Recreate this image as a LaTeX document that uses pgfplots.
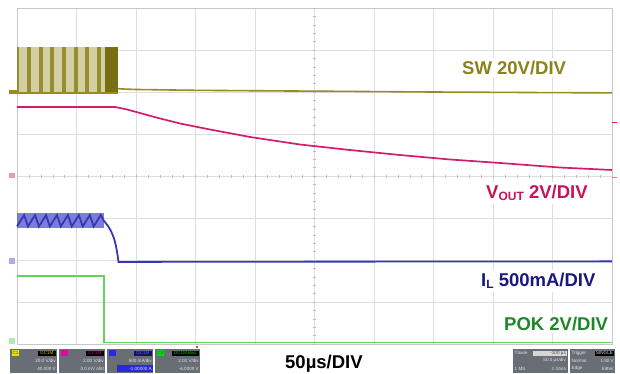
\documentclass[border=0pt]{standalone}
\usepackage{pgfplots}
\pgfplotsset{compat=1.18}
\usepackage{fontspec}
\setmainfont{Liberation Sans}
\definecolor{gridc}{RGB}{222,222,222}
\definecolor{framec}{RGB}{200,200,200}
\definecolor{swc}{RGB}{150,140,35}
\definecolor{swtext}{RGB}{140,130,25}
\definecolor{swlight}{RGB}{212,207,162}
\definecolor{swstripe}{RGB}{150,140,50}
\definecolor{swdark}{RGB}{120,110,20}
\definecolor{voc}{RGB}{210,30,105}
\definecolor{votext}{RGB}{200,20,85}
\definecolor{ilc}{RGB}{55,55,180}
\definecolor{illight}{RGB}{110,110,215}
\definecolor{iltext}{RGB}{25,25,125}
\definecolor{pokc}{RGB}{95,215,95}
\definecolor{poktext}{RGB}{30,135,40}
\definecolor{boxc}{RGB}{105,109,118}
\definecolor{boxt}{RGB}{228,228,228}
\definecolor{cha}{RGB}{235,225,0}
\definecolor{chb}{RGB}{235,0,160}
\definecolor{chc}{RGB}{40,40,235}
\definecolor{chd}{RGB}{0,225,0}
\definecolor{chat}{RGB}{200,190,0}
\definecolor{chbt}{RGB}{200,0,130}
\definecolor{chct}{RGB}{90,90,255}
\definecolor{chdt}{RGB}{0,200,0}
\definecolor{navyf}{RGB}{20,20,90}
\definecolor{bluef}{RGB}{40,40,220}
\definecolor{lightf}{RGB}{215,215,215}
\newcommand{\scopefont}{\fontsize{4.6}{5}\selectfont}
\begin{document}
\begin{tikzpicture}
\begin{axis}[
  width=595pt, height=336pt, scale only axis,
  xmin=0, xmax=500, ymin=0, ymax=8,
  xtick={0,50,...,500}, ytick={0,1,...,8},
  xticklabels={}, yticklabels={},
  ticklabel style={inner sep=0pt},
  tick style={draw=none},
  grid=major, major grid style={gridc, line width=0.6pt},
  axis line style={framec, line width=0.7pt},
  clip=false,
]
% SW switching block (light background)
\addplot[fill=swlight, draw=none] coordinates {(0,5.95) (84.9,5.95) (84.9,7.07) (0,7.07)} -- cycle;
% darker stripes of the switching waveform
\addplot[fill=swstripe, draw=none] coordinates {(0,5.95) (2.0,5.95) (2.0,7.07) (0,7.07)} -- cycle;
\addplot[fill=swstripe, draw=none] coordinates {(8.4,5.95) (11.8,5.95) (11.8,7.07) (8.4,7.07)} -- cycle;
\addplot[fill=swstripe, draw=none] coordinates {(18.2,5.95) (21.6,5.95) (21.6,7.07) (18.2,7.07)} -- cycle;
\addplot[fill=swstripe, draw=none] coordinates {(28.0,5.95) (31.4,5.95) (31.4,7.07) (28.0,7.07)} -- cycle;
\addplot[fill=swstripe, draw=none] coordinates {(37.8,5.95) (41.2,5.95) (41.2,7.07) (37.8,7.07)} -- cycle;
\addplot[fill=swstripe, draw=none] coordinates {(47.6,5.95) (51.0,5.95) (51.0,7.07) (47.6,7.07)} -- cycle;
\addplot[fill=swstripe, draw=none] coordinates {(57.4,5.95) (60.8,5.95) (60.8,7.07) (57.4,7.07)} -- cycle;
\addplot[fill=swstripe, draw=none] coordinates {(67.2,5.95) (70.6,5.95) (70.6,7.07) (67.2,7.07)} -- cycle;
\addplot[fill=swdark, draw=none] coordinates {(73.9,5.95) (84.9,5.95) (84.9,7.07) (73.9,7.07)} -- cycle;
% SW trace
\addplot[swc, line width=1.8pt] coordinates {(0,5.97) (84.9,5.97)};
\addplot[swc, line width=1.6pt] coordinates {(84.9,6.08) (90,6.07) (100,6.06) (150,6.04) (250,6.02) (350,6.0) (450,5.985) (500,5.98)};
% VOUT trace
\addplot[voc, line width=1.7pt] coordinates {
(0,5.643) (82.4,5.643) (90.8,5.595) (103.4,5.5) (120.2,5.369) (137.0,5.25)
(162.2,5.107) (195.8,4.929) (237.8,4.75) (279.8,4.619) (321.8,4.5)
(363.9,4.393) (405.9,4.31) (456.3,4.202) (500,4.143)};
% IL ripple band
\addplot[fill=illight, draw=none, opacity=0.9] coordinates {(0,2.76) (73.5,2.76) (73.5,3.12) (0,3.12)} -- cycle;
\addplot[ilc, line width=1.8pt] coordinates {
(0,2.80) (6,3.07) (9.2,2.80) (15.2,3.07) (18.4,2.80) (24.4,3.07) (27.6,2.80) (33.6,3.07)
(36.8,2.80) (42.8,3.07) (46,2.80) (52,3.07) (55.2,2.80) (61.2,3.07) (64.4,2.80) (70.4,3.07)
(73.1,2.93) (76.5,2.81) (79,2.69) (81.5,2.52) (83.2,2.33) (84.5,2.12) (85.3,1.952)
(100,1.955) (200,1.96) (300,1.962) (400,1.965) (500,1.967)};
% POK trace
\addplot[pokc, line width=1.5pt] coordinates {(0,1.62) (73.1,1.62) (73.1,0.03) (500,0.03)};
% picture origin (lower-left corner of the 620x373 frame)
\coordinate (O) at (axis cs:-14.2857,-0.690476);
\end{axis}
\begin{scope}[shift={(O)}, x=1pt, y=1pt]
\path (0,0) rectangle (620,373);
% centre graticule ticks
\foreach \i in {0,...,50} \draw[gridc!85!black, line width=0.4pt] (17+11.9*\i,195.5) -- (17+11.9*\i,198.5);
\foreach \i in {0,...,40} \draw[gridc!85!black, line width=0.4pt] (313,29+8.4*\i) -- (316,29+8.4*\i);
% channel markers
\fill[swc] (9,279) rectangle (17,283);
\fill[voc!45] (9,195) rectangle (15,200);
\fill[ilc!40] (9,109) rectangle (15,115);
\fill[pokc!50] (9,29) rectangle (15,35);
\draw[voc, line width=1pt] (612,251) -- (617,251);
\draw[voc!60, line width=1pt] (612,196) -- (617,196);
\fill[red!80] (197,26) circle (1.3);
% labels
\begin{scope}[every node/.style={fill=white, inner sep=3pt, font=\fontsize{18.5}{18.5}\selectfont\bfseries}]
\node[anchor=base west, text=swtext] at (459,299) {SW 20V/DIV};
\node[anchor=base west, text=votext] at (483,175) {V\raisebox{-2.5pt}{\fontsize{12}{12}\selectfont OUT} 2V/DIV};
\node[anchor=base west, text=iltext] at (478,87) {I\raisebox{-2.5pt}{\fontsize{12}{12}\selectfont L} 500mA/DIV};
\node[anchor=base west, text=poktext] at (501,43) {POK 2V/DIV};
\end{scope}
\node[anchor=base west, inner sep=0pt, font=\fontsize{18.5}{18.5}\selectfont\bfseries] at (285,5) {50µs/DIV};
% bottom-left channel boxes
\fill[boxc] (10,0) rectangle (57,24);
\fill[boxc] (59,0) rectangle (105,24);
\fill[boxc] (107,0) rectangle (153,24);
\fill[boxc] (155,0) rectangle (200,24);
\fill[cha] (12,17) rectangle (19,23);
\fill[chb] (61,17) rectangle (68,23);
\fill[chc] (109,17) rectangle (116,23);
\fill[chd] (157,17) rectangle (164,23);
\fill[black] (38,17.5) rectangle (56,22.5);
\fill[black] (86,17.5) rectangle (104,22.5);
\fill[navyf] (134,17.5) rectangle (152,22.5);
\fill[black] (172,17.5) rectangle (199,22.5);
\fill[bluef] (117,1) rectangle (153,8);
\begin{scope}[every node/.style={inner sep=0pt, font=\scopefont, text=boxt}]
\node[anchor=east] at (56,12.5) {20.0 V/div};
\node[anchor=east] at (56,4.5) {40.000 V};
\node[anchor=east] at (104,12.5) {2.00 V/div};
\node[anchor=east] at (104,4.5) {0.0 mV ofst};
\node[anchor=east] at (152,12.5) {500 mA/div};
\node[anchor=east] at (152,4.5) {-1.00000 A};
\node[anchor=east] at (199,12.5) {2.00 V/div};
\node[anchor=east] at (199,4.5) {-6.0000 V};
\node[anchor=center, text=black!70] at (15.5,20) {C1};
\node[anchor=center, text=black!70] at (160.5,20) {C4};
\node[anchor=center, text=chat] at (47,20) {DC1M};
\node[anchor=center, text=chbt] at (95,20) {DC1M};
\node[anchor=center, text=chct] at (143,20) {DC1M};
\node[anchor=center, text=chdt] at (185.5,20) {DC1M BwL};
\end{scope}
% bottom-right timebase / trigger boxes
\fill[boxc] (513,0) rectangle (568,24);
\fill[boxc] (570,0) rectangle (615,24);
\fill[lightf] (533,17.5) rectangle (567,22.5);
\fill[black] (595,17.5) rectangle (614,22.5);
\begin{scope}[every node/.style={inner sep=0pt, font=\scopefont, text=boxt}]
\node[anchor=west] at (514.5,20) {Tbase};
\node[anchor=east, text=black!70] at (566,20) {-100 µs};
\node[anchor=east] at (566,12.5) {50.0 µs/div};
\node[anchor=west] at (514.5,4.5) {1 MS};
\node[anchor=east] at (566,4.5) {2 GS/s};
\node[anchor=west] at (571.5,20) {Trigger};
\node[anchor=center] at (604.5,20) {SINGLE};
\node[anchor=west] at (571.5,12.5) {Normal};
\node[anchor=east] at (614,12.5) {1.92 V};
\node[anchor=west] at (571.5,4.5) {Edge};
\node[anchor=east] at (614,4.5) {Either};
\end{scope}
\end{scope}
\end{tikzpicture}
\end{document}
